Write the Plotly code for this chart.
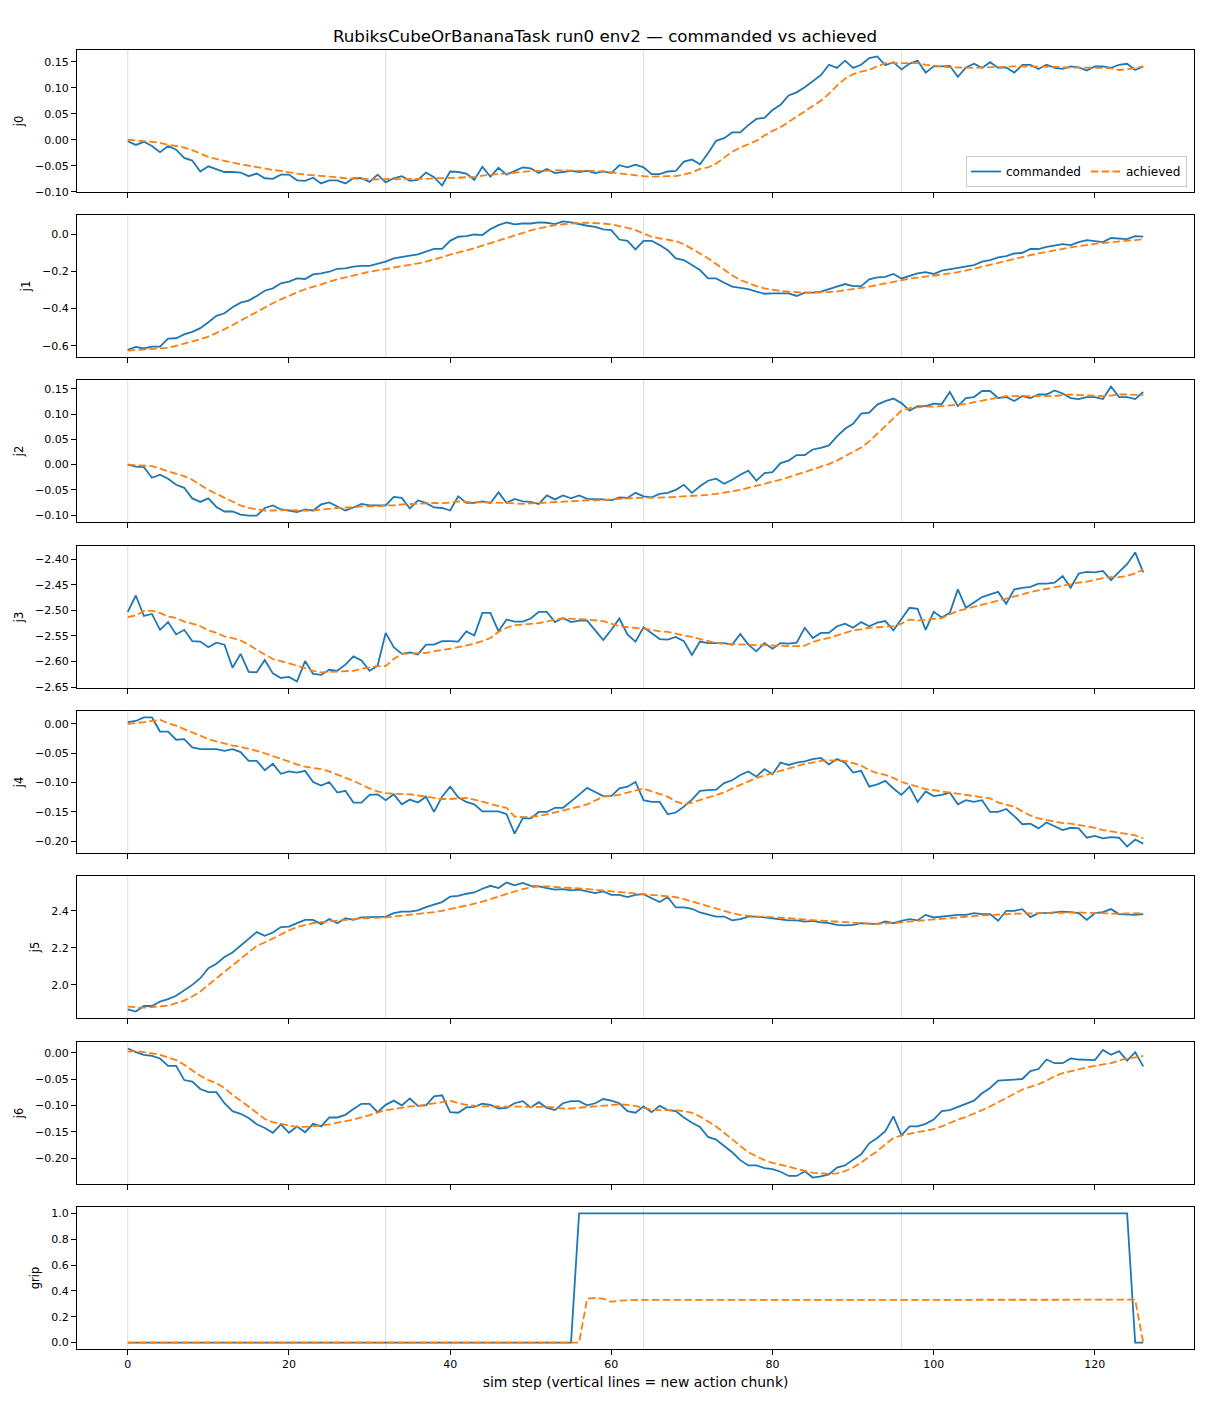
import plotly.graph_objects as go
from plotly.subplots import make_subplots

# ---------------- data ----------------
steps = list(range(127))
chunk_starts = [0, 32, 64, 96]
x_ticks = [0, 20, 40, 60, 80, 100, 120]
joint_names = ["j0", "j1", "j2", "j3", "j4", "j5", "j6", "grip"]

j0_cmd = [
    -0.003, -0.010, -0.004, -0.012, -0.024, -0.012, -0.019, -0.035, -0.040, -0.061,
    -0.051, -0.056, -0.062, -0.062, -0.063, -0.070, -0.065, -0.074, -0.075, -0.067,
    -0.067, -0.078, -0.079, -0.073, -0.084, -0.078, -0.078, -0.084, -0.074, -0.074,
    -0.081, -0.067, -0.082, -0.074, -0.070, -0.079, -0.077, -0.063, -0.072, -0.088,
    -0.061, -0.062, -0.065, -0.077, -0.052, -0.071, -0.054, -0.067, -0.060, -0.053,
    -0.055, -0.064, -0.056, -0.064, -0.062, -0.060, -0.062, -0.060, -0.064, -0.061,
    -0.064, -0.049, -0.053, -0.048, -0.053, -0.066, -0.066, -0.061, -0.060, -0.042,
    -0.038, -0.047, -0.026, -0.002, 0.003, 0.014, 0.014, 0.028, 0.040, 0.042,
    0.057, 0.067, 0.085, 0.091, 0.101, 0.112, 0.124, 0.144, 0.138, 0.152,
    0.138, 0.144, 0.157, 0.160, 0.143, 0.149, 0.135, 0.146, 0.152, 0.129,
    0.141, 0.141, 0.142, 0.121, 0.139, 0.146, 0.138, 0.149, 0.138, 0.139,
    0.129, 0.144, 0.144, 0.136, 0.144, 0.138, 0.136, 0.141, 0.139, 0.133,
    0.141, 0.141, 0.138, 0.144, 0.146, 0.134, 0.141,
]
j0_ach = [
    0.000, -0.001, -0.003, -0.004, -0.006, -0.010, -0.012, -0.015, -0.020, -0.026,
    -0.033, -0.037, -0.041, -0.044, -0.047, -0.050, -0.053, -0.055, -0.058, -0.060,
    -0.063, -0.065, -0.067, -0.068, -0.069, -0.071, -0.072, -0.074, -0.075, -0.076,
    -0.076, -0.076, -0.076, -0.076, -0.076, -0.076, -0.076, -0.075, -0.074, -0.074,
    -0.073, -0.073, -0.072, -0.072, -0.069, -0.067, -0.066, -0.065, -0.063, -0.062,
    -0.060, -0.060, -0.059, -0.059, -0.059, -0.059, -0.060, -0.060, -0.060, -0.061,
    -0.063, -0.065, -0.067, -0.069, -0.070, -0.071, -0.070, -0.070, -0.070, -0.067,
    -0.063, -0.056, -0.053, -0.046, -0.035, -0.023, -0.015, -0.009, -0.002, 0.008,
    0.017, 0.024, 0.034, 0.044, 0.054, 0.064, 0.075, 0.088, 0.104, 0.117,
    0.126, 0.131, 0.134, 0.141, 0.147, 0.147, 0.147, 0.147, 0.147, 0.144,
    0.142, 0.140, 0.139, 0.139, 0.138, 0.138, 0.139, 0.139, 0.140, 0.140,
    0.141, 0.141, 0.141, 0.140, 0.140, 0.140, 0.139, 0.139, 0.139, 0.139,
    0.139, 0.138, 0.137, 0.134, 0.135, 0.138, 0.141,
]

j1_cmd = [
    -0.621, -0.605, -0.614, -0.604, -0.604, -0.561, -0.559, -0.538, -0.525, -0.505,
    -0.473, -0.439, -0.425, -0.393, -0.368, -0.357, -0.332, -0.304, -0.291, -0.264,
    -0.255, -0.238, -0.241, -0.216, -0.211, -0.202, -0.186, -0.184, -0.175, -0.170,
    -0.170, -0.161, -0.148, -0.130, -0.125, -0.116, -0.109, -0.095, -0.079, -0.079,
    -0.036, -0.014, -0.011, -0.002, -0.005, 0.027, 0.048, 0.063, 0.052, 0.057,
    0.057, 0.063, 0.061, 0.054, 0.068, 0.063, 0.052, 0.045, 0.039, 0.025,
    0.021, -0.029, -0.036, -0.082, -0.036, -0.036, -0.059, -0.086, -0.130, -0.139,
    -0.166, -0.193, -0.238, -0.238, -0.261, -0.282, -0.288, -0.295, -0.309, -0.320,
    -0.318, -0.316, -0.318, -0.332, -0.314, -0.314, -0.309, -0.295, -0.282, -0.268,
    -0.279, -0.279, -0.243, -0.232, -0.229, -0.214, -0.238, -0.225, -0.211, -0.204,
    -0.214, -0.196, -0.189, -0.180, -0.175, -0.166, -0.148, -0.139, -0.125, -0.118,
    -0.104, -0.100, -0.080, -0.080, -0.068, -0.059, -0.054, -0.059, -0.043, -0.032,
    -0.038, -0.043, -0.021, -0.023, -0.027, -0.011, -0.013,
]
j1_ach = [
    -0.625, -0.623, -0.621, -0.618, -0.616, -0.611, -0.600, -0.589, -0.577, -0.564,
    -0.550, -0.532, -0.511, -0.488, -0.464, -0.439, -0.416, -0.393, -0.371, -0.350,
    -0.330, -0.313, -0.296, -0.282, -0.268, -0.255, -0.243, -0.232, -0.221, -0.211,
    -0.202, -0.195, -0.188, -0.180, -0.173, -0.166, -0.157, -0.148, -0.137, -0.124,
    -0.110, -0.100, -0.090, -0.076, -0.062, -0.048, -0.034, -0.020, -0.006, 0.008,
    0.020, 0.031, 0.040, 0.048, 0.053, 0.057, 0.060, 0.061, 0.060, 0.057,
    0.052, 0.045, 0.034, 0.021, 0.004, -0.014, -0.023, -0.029, -0.038, -0.054,
    -0.077, -0.104, -0.130, -0.161, -0.193, -0.221, -0.246, -0.264, -0.279, -0.291,
    -0.300, -0.305, -0.309, -0.313, -0.314, -0.314, -0.313, -0.311, -0.307, -0.302,
    -0.296, -0.289, -0.282, -0.273, -0.264, -0.255, -0.246, -0.239, -0.234, -0.229,
    -0.223, -0.218, -0.211, -0.204, -0.196, -0.186, -0.175, -0.164, -0.154, -0.143,
    -0.132, -0.121, -0.113, -0.104, -0.095, -0.086, -0.079, -0.071, -0.064, -0.057,
    -0.052, -0.048, -0.045, -0.039, -0.036, -0.032, -0.027,
]

j2_cmd = [
    0.000, -0.004, -0.005, -0.026, -0.020, -0.028, -0.040, -0.046, -0.067, -0.074,
    -0.067, -0.084, -0.093, -0.093, -0.099, -0.101, -0.101, -0.086, -0.081, -0.089,
    -0.091, -0.094, -0.089, -0.091, -0.079, -0.075, -0.083, -0.091, -0.085, -0.078,
    -0.081, -0.081, -0.081, -0.064, -0.066, -0.087, -0.071, -0.076, -0.085, -0.086,
    -0.091, -0.063, -0.076, -0.076, -0.073, -0.076, -0.055, -0.076, -0.068, -0.073,
    -0.074, -0.078, -0.061, -0.069, -0.061, -0.067, -0.061, -0.068, -0.068, -0.069,
    -0.071, -0.065, -0.066, -0.056, -0.063, -0.065, -0.058, -0.056, -0.050, -0.040,
    -0.056, -0.043, -0.032, -0.028, -0.038, -0.030, -0.020, -0.012, -0.032, -0.017,
    -0.015, 0.003, 0.008, 0.019, 0.019, 0.030, 0.033, 0.038, 0.056, 0.071,
    0.081, 0.101, 0.103, 0.119, 0.126, 0.131, 0.122, 0.107, 0.116, 0.116,
    0.121, 0.120, 0.144, 0.116, 0.132, 0.134, 0.146, 0.146, 0.132, 0.134,
    0.126, 0.136, 0.132, 0.139, 0.139, 0.147, 0.141, 0.132, 0.130, 0.134,
    0.134, 0.130, 0.155, 0.134, 0.134, 0.130, 0.144,
]
j2_ach = [
    0.000, -0.001, -0.001, -0.003, -0.008, -0.013, -0.019, -0.023, -0.030, -0.040,
    -0.050, -0.058, -0.066, -0.074, -0.081, -0.086, -0.089, -0.091, -0.091, -0.090,
    -0.090, -0.091, -0.091, -0.091, -0.089, -0.087, -0.086, -0.085, -0.085, -0.083,
    -0.083, -0.083, -0.081, -0.081, -0.079, -0.078, -0.077, -0.076, -0.076, -0.077,
    -0.075, -0.073, -0.074, -0.075, -0.075, -0.075, -0.075, -0.076, -0.077, -0.078,
    -0.077, -0.076, -0.075, -0.074, -0.073, -0.073, -0.072, -0.071, -0.071, -0.070,
    -0.069, -0.067, -0.067, -0.066, -0.066, -0.066, -0.065, -0.065, -0.064, -0.063,
    -0.063, -0.062, -0.060, -0.058, -0.056, -0.053, -0.050, -0.046, -0.043, -0.038,
    -0.034, -0.030, -0.025, -0.020, -0.015, -0.009, -0.004, 0.001, 0.008, 0.017,
    0.025, 0.034, 0.046, 0.061, 0.076, 0.093, 0.107, 0.112, 0.114, 0.115,
    0.115, 0.116, 0.117, 0.118, 0.120, 0.124, 0.127, 0.130, 0.134, 0.136,
    0.136, 0.136, 0.135, 0.135, 0.135, 0.136, 0.138, 0.139, 0.138, 0.137,
    0.136, 0.136, 0.137, 0.139, 0.139, 0.138, 0.138,
]

j3_cmd = [
    -2.503, -2.471, -2.511, -2.507, -2.538, -2.523, -2.547, -2.538, -2.560, -2.561,
    -2.572, -2.563, -2.567, -2.612, -2.585, -2.620, -2.621, -2.597, -2.623, -2.632,
    -2.630, -2.639, -2.599, -2.624, -2.626, -2.616, -2.618, -2.606, -2.590, -2.598,
    -2.618, -2.608, -2.544, -2.572, -2.585, -2.582, -2.586, -2.567, -2.567, -2.560,
    -2.560, -2.561, -2.541, -2.549, -2.505, -2.505, -2.541, -2.518, -2.522, -2.522,
    -2.516, -2.503, -2.503, -2.523, -2.515, -2.523, -2.520, -2.520, -2.539, -2.558,
    -2.538, -2.516, -2.547, -2.561, -2.533, -2.544, -2.556, -2.557, -2.552, -2.560,
    -2.587, -2.561, -2.564, -2.564, -2.564, -2.567, -2.546, -2.567, -2.580, -2.564,
    -2.575, -2.564, -2.565, -2.563, -2.534, -2.554, -2.544, -2.544, -2.531, -2.526,
    -2.534, -2.523, -2.531, -2.524, -2.521, -2.539, -2.518, -2.495, -2.497, -2.538,
    -2.503, -2.514, -2.505, -2.459, -2.495, -2.484, -2.474, -2.469, -2.464, -2.487,
    -2.459, -2.456, -2.454, -2.448, -2.448, -2.446, -2.433, -2.456, -2.428, -2.425,
    -2.426, -2.423, -2.441, -2.425, -2.410, -2.387, -2.426,
]
j3_ach = [
    -2.513, -2.510, -2.501, -2.501, -2.505, -2.512, -2.515, -2.522, -2.526, -2.531,
    -2.539, -2.544, -2.551, -2.554, -2.559, -2.567, -2.577, -2.586, -2.595, -2.599,
    -2.603, -2.608, -2.613, -2.618, -2.621, -2.620, -2.619, -2.619, -2.618, -2.614,
    -2.611, -2.609, -2.609, -2.595, -2.585, -2.584, -2.584, -2.583, -2.580, -2.578,
    -2.575, -2.572, -2.569, -2.565, -2.560, -2.554, -2.542, -2.534, -2.529, -2.528,
    -2.527, -2.525, -2.522, -2.518, -2.516, -2.516, -2.517, -2.518, -2.520, -2.521,
    -2.526, -2.531, -2.533, -2.534, -2.536, -2.538, -2.541, -2.542, -2.546, -2.549,
    -2.552, -2.556, -2.560, -2.564, -2.565, -2.566, -2.567, -2.567, -2.568, -2.568,
    -2.569, -2.569, -2.570, -2.570, -2.569, -2.562, -2.557, -2.554, -2.549, -2.544,
    -2.539, -2.537, -2.534, -2.533, -2.532, -2.531, -2.526, -2.518, -2.520, -2.518,
    -2.516, -2.515, -2.508, -2.501, -2.497, -2.493, -2.490, -2.486, -2.482, -2.477,
    -2.473, -2.469, -2.464, -2.461, -2.458, -2.454, -2.452, -2.448, -2.446, -2.444,
    -2.440, -2.437, -2.435, -2.435, -2.433, -2.428, -2.420,
]

j4_cmd = [
    0.003, 0.005, 0.011, 0.011, -0.013, -0.013, -0.027, -0.026, -0.040, -0.043,
    -0.043, -0.043, -0.046, -0.043, -0.048, -0.063, -0.063, -0.079, -0.068, -0.085,
    -0.081, -0.083, -0.080, -0.099, -0.105, -0.099, -0.117, -0.114, -0.134, -0.134,
    -0.121, -0.120, -0.130, -0.120, -0.137, -0.129, -0.134, -0.124, -0.150, -0.124,
    -0.107, -0.125, -0.133, -0.137, -0.149, -0.149, -0.149, -0.154, -0.187, -0.161,
    -0.161, -0.150, -0.150, -0.143, -0.143, -0.132, -0.121, -0.109, -0.116, -0.123,
    -0.123, -0.110, -0.107, -0.099, -0.130, -0.133, -0.133, -0.154, -0.151, -0.141,
    -0.129, -0.114, -0.113, -0.112, -0.101, -0.096, -0.087, -0.081, -0.090, -0.077,
    -0.086, -0.066, -0.070, -0.066, -0.064, -0.060, -0.058, -0.069, -0.060, -0.066,
    -0.083, -0.080, -0.107, -0.103, -0.097, -0.110, -0.121, -0.107, -0.133, -0.115,
    -0.123, -0.121, -0.117, -0.137, -0.130, -0.133, -0.130, -0.150, -0.150, -0.145,
    -0.157, -0.171, -0.170, -0.178, -0.168, -0.174, -0.181, -0.177, -0.178, -0.194,
    -0.191, -0.195, -0.193, -0.194, -0.209, -0.197, -0.204,
]
j4_ach = [
    0.000, 0.001, 0.003, 0.005, 0.007, 0.001, -0.003, -0.009, -0.014, -0.020,
    -0.026, -0.030, -0.034, -0.037, -0.039, -0.042, -0.046, -0.050, -0.055, -0.060,
    -0.064, -0.069, -0.073, -0.075, -0.077, -0.081, -0.087, -0.092, -0.097, -0.104,
    -0.110, -0.115, -0.118, -0.119, -0.119, -0.120, -0.122, -0.124, -0.126, -0.128,
    -0.128, -0.127, -0.126, -0.129, -0.133, -0.137, -0.140, -0.143, -0.158, -0.159,
    -0.158, -0.157, -0.154, -0.151, -0.148, -0.145, -0.141, -0.137, -0.130, -0.124,
    -0.123, -0.121, -0.117, -0.113, -0.110, -0.115, -0.119, -0.124, -0.132, -0.137,
    -0.134, -0.130, -0.126, -0.121, -0.117, -0.110, -0.104, -0.097, -0.092, -0.088,
    -0.084, -0.080, -0.076, -0.072, -0.068, -0.066, -0.063, -0.062, -0.062, -0.063,
    -0.067, -0.071, -0.079, -0.084, -0.087, -0.092, -0.099, -0.103, -0.107, -0.111,
    -0.113, -0.115, -0.116, -0.119, -0.121, -0.123, -0.124, -0.127, -0.134, -0.137,
    -0.141, -0.149, -0.156, -0.161, -0.164, -0.167, -0.169, -0.170, -0.172, -0.174,
    -0.177, -0.181, -0.183, -0.185, -0.187, -0.190, -0.195,
]

j5_cmd = [
    1.868, 1.856, 1.886, 1.886, 1.910, 1.923, 1.941, 1.969, 2.000, 2.036,
    2.090, 2.114, 2.150, 2.175, 2.211, 2.252, 2.285, 2.265, 2.283, 2.312,
    2.315, 2.333, 2.351, 2.351, 2.328, 2.355, 2.333, 2.360, 2.351, 2.364,
    2.366, 2.366, 2.369, 2.387, 2.396, 2.396, 2.402, 2.420, 2.432, 2.447,
    2.477, 2.481, 2.492, 2.499, 2.519, 2.535, 2.523, 2.553, 2.537, 2.550,
    2.535, 2.532, 2.523, 2.514, 2.517, 2.510, 2.514, 2.505, 2.495, 2.505,
    2.486, 2.486, 2.474, 2.486, 2.490, 2.468, 2.447, 2.474, 2.418, 2.418,
    2.411, 2.391, 2.378, 2.369, 2.369, 2.348, 2.355, 2.369, 2.369, 2.364,
    2.357, 2.351, 2.348, 2.348, 2.342, 2.346, 2.337, 2.333, 2.324, 2.321,
    2.324, 2.333, 2.330, 2.328, 2.342, 2.333, 2.346, 2.355, 2.348, 2.378,
    2.364, 2.369, 2.373, 2.378, 2.378, 2.387, 2.382, 2.382, 2.346, 2.400,
    2.400, 2.409, 2.366, 2.387, 2.387, 2.393, 2.396, 2.393, 2.387, 2.351,
    2.387, 2.393, 2.409, 2.382, 2.378, 2.378, 2.382,
]
j5_ach = [
    1.883, 1.880, 1.877, 1.880, 1.883, 1.888, 1.901, 1.915, 1.937, 1.964,
    2.000, 2.036, 2.072, 2.108, 2.144, 2.180, 2.211, 2.229, 2.252, 2.274,
    2.294, 2.312, 2.324, 2.333, 2.339, 2.342, 2.348, 2.351, 2.355, 2.359,
    2.360, 2.362, 2.364, 2.369, 2.373, 2.378, 2.384, 2.387, 2.393, 2.400,
    2.409, 2.418, 2.427, 2.438, 2.450, 2.463, 2.477, 2.492, 2.505, 2.517,
    2.526, 2.532, 2.532, 2.528, 2.526, 2.523, 2.521, 2.517, 2.514, 2.510,
    2.508, 2.505, 2.499, 2.496, 2.492, 2.488, 2.485, 2.481, 2.474, 2.463,
    2.450, 2.438, 2.423, 2.409, 2.396, 2.387, 2.378, 2.373, 2.369, 2.368,
    2.366, 2.364, 2.360, 2.357, 2.353, 2.350, 2.346, 2.342, 2.339, 2.336,
    2.333, 2.331, 2.330, 2.330, 2.331, 2.333, 2.337, 2.342, 2.346, 2.351,
    2.355, 2.359, 2.362, 2.366, 2.369, 2.373, 2.375, 2.377, 2.378, 2.382,
    2.384, 2.386, 2.387, 2.387, 2.387, 2.389, 2.389, 2.391, 2.391, 2.389,
    2.387, 2.384, 2.382, 2.384, 2.386, 2.386, 2.387,
]

j6_cmd = [
    0.008, 0.001, -0.004, -0.006, -0.011, -0.025, -0.025, -0.052, -0.055, -0.069,
    -0.075, -0.075, -0.096, -0.111, -0.116, -0.124, -0.136, -0.143, -0.152, -0.136,
    -0.152, -0.140, -0.151, -0.135, -0.140, -0.123, -0.123, -0.118, -0.107, -0.097,
    -0.097, -0.113, -0.099, -0.091, -0.100, -0.087, -0.101, -0.100, -0.083, -0.081,
    -0.113, -0.114, -0.104, -0.103, -0.097, -0.099, -0.106, -0.105, -0.096, -0.092,
    -0.104, -0.094, -0.105, -0.109, -0.096, -0.092, -0.092, -0.100, -0.096, -0.088,
    -0.091, -0.096, -0.111, -0.114, -0.102, -0.113, -0.101, -0.109, -0.111, -0.123,
    -0.133, -0.141, -0.160, -0.165, -0.177, -0.189, -0.204, -0.214, -0.214, -0.219,
    -0.221, -0.226, -0.234, -0.234, -0.225, -0.237, -0.235, -0.231, -0.218, -0.214,
    -0.203, -0.193, -0.172, -0.162, -0.149, -0.121, -0.157, -0.140, -0.140, -0.135,
    -0.127, -0.111, -0.109, -0.103, -0.096, -0.091, -0.077, -0.067, -0.053, -0.052,
    -0.052, -0.050, -0.035, -0.031, -0.013, -0.020, -0.020, -0.011, -0.013, -0.014,
    -0.014, 0.005, -0.004, 0.003, -0.015, 0.001, -0.026,
]
j6_ach = [
    0.002, 0.003, 0.001, -0.001, -0.004, -0.009, -0.014, -0.023, -0.033, -0.044,
    -0.052, -0.058, -0.067, -0.080, -0.091, -0.102, -0.114, -0.126, -0.132, -0.135,
    -0.138, -0.141, -0.141, -0.140, -0.138, -0.136, -0.133, -0.131, -0.127, -0.123,
    -0.118, -0.113, -0.109, -0.107, -0.104, -0.102, -0.101, -0.099, -0.097, -0.094,
    -0.091, -0.096, -0.099, -0.101, -0.102, -0.102, -0.102, -0.103, -0.103, -0.103,
    -0.102, -0.102, -0.103, -0.104, -0.106, -0.106, -0.104, -0.103, -0.102, -0.101,
    -0.100, -0.098, -0.099, -0.101, -0.105, -0.108, -0.109, -0.109, -0.109, -0.111,
    -0.114, -0.121, -0.130, -0.140, -0.152, -0.165, -0.177, -0.189, -0.197, -0.204,
    -0.209, -0.213, -0.217, -0.221, -0.225, -0.228, -0.229, -0.230, -0.229, -0.225,
    -0.218, -0.209, -0.197, -0.187, -0.174, -0.162, -0.157, -0.154, -0.151, -0.149,
    -0.145, -0.140, -0.133, -0.127, -0.122, -0.116, -0.109, -0.102, -0.094, -0.086,
    -0.078, -0.070, -0.065, -0.060, -0.053, -0.045, -0.039, -0.035, -0.031, -0.028,
    -0.025, -0.023, -0.020, -0.015, -0.011, -0.009, -0.006,
]

grip_cmd = [
    0, 0, 0, 0, 0, 0, 0, 0, 0, 0,
    0, 0, 0, 0, 0, 0, 0, 0, 0, 0,
    0, 0, 0, 0, 0, 0, 0, 0, 0, 0,
    0, 0, 0, 0, 0, 0, 0, 0, 0, 0,
    0, 0, 0, 0, 0, 0, 0, 0, 0, 0,
    0, 0, 0, 0, 0, 0, 1, 1, 1, 1,
    1, 1, 1, 1, 1, 1, 1, 1, 1, 1,
    1, 1, 1, 1, 1, 1, 1, 1, 1, 1,
    1, 1, 1, 1, 1, 1, 1, 1, 1, 1,
    1, 1, 1, 1, 1, 1, 1, 1, 1, 1,
    1, 1, 1, 1, 1, 1, 1, 1, 1, 1,
    1, 1, 1, 1, 1, 1, 1, 1, 1, 1,
    1, 1, 1, 1, 1, 0, 0,
]
grip_ach = [
    0, 0, 0, 0, 0, 0, 0, 0, 0, 0,
    0, 0, 0, 0, 0, 0, 0, 0, 0, 0,
    0, 0, 0, 0, 0, 0, 0, 0, 0, 0,
    0, 0, 0, 0, 0, 0, 0, 0, 0, 0,
    0, 0, 0, 0, 0, 0, 0, 0, 0, 0,
    0, 0, 0, 0, 0, 0, 0, 0.340, 0.345, 0.340,
    0.315, 0.325, 0.330, 0.330, 0.330, 0.330, 0.330, 0.330, 0.330, 0.330,
    0.330, 0.330, 0.330, 0.330, 0.330, 0.330, 0.330, 0.330, 0.330, 0.330,
    0.330, 0.330, 0.330, 0.330, 0.330, 0.330, 0.330, 0.330, 0.330, 0.330,
    0.330, 0.330, 0.330, 0.330, 0.330, 0.330, 0.330, 0.330, 0.330, 0.330,
    0.330, 0.330, 0.330, 0.331, 0.331, 0.331, 0.331, 0.331, 0.331, 0.331,
    0.331, 0.331, 0.331, 0.332, 0.332, 0.332, 0.332, 0.332, 0.332, 0.332,
    0.332, 0.332, 0.332, 0.332, 0.332, 0.332, 0.0,
]

cmd_series = [j0_cmd, j1_cmd, j2_cmd, j3_cmd, j4_cmd, j5_cmd, j6_cmd, grip_cmd]
ach_series = [j0_ach, j1_ach, j2_ach, j3_ach, j4_ach, j5_ach, j6_ach, grip_ach]
y_dticks = [0.05, 0.2, 0.05, 0.05, 0.05, 0.2, 0.05, 0.2]
y_formats = [".2f", ".1f", ".2f", ".2f", ".2f", ".1f", ".2f", ".1f"]

for s in cmd_series + ach_series:
    assert len(s) == len(steps), len(s)

# ---------------- layout / style ----------------
# The page body has an 8px default margin, so the figure is drawn 8px
# smaller and everything is positioned in figure-local pixels.
OFF = 8
WIN_W, WIN_H = 1210, 1408
W, H = WIN_W - OFF, WIN_H - OFF
M_L, M_R, M_T, M_B = 77 - OFF, 16, 50 - OFF, 59
PANEL_TOPS = [t - OFF for t in [50, 215, 380, 546, 711, 876, 1042, 1207]]
PANEL_H = 142
PLOT_H = H - M_T - M_B
PLOT_W = W - M_L - M_R

BLUE = "#1f77b4"
ORANGE = "#ff7f0e"
LW = 1.8
DASH = "7.5px,3.3px"
VLINE = "#dcdcdc"
FONT = "DejaVu Sans"

fig = make_subplots(rows=8, cols=1, shared_xaxes=True, vertical_spacing=0.01)

axis_common = dict(
    showline=True, linecolor="black", linewidth=1, mirror=True,
    ticks="outside", ticklen=5, tickwidth=1, tickcolor="black",
    showgrid=False, zeroline=False,
    tickfont=dict(size=11, color="black", family=FONT),
)

for r in range(1, 9):
    cmd = cmd_series[r - 1]
    ach = ach_series[r - 1]
    fig.add_trace(go.Scatter(
        x=steps, y=cmd, mode="lines", name="commanded",
        line=dict(color=BLUE, width=LW), showlegend=(r == 1),
        legendgroup="cmd"), row=r, col=1)
    fig.add_trace(go.Scatter(
        x=steps, y=ach, mode="lines", name="achieved",
        line=dict(color=ORANGE, width=LW, dash=DASH), showlegend=(r == 1),
        legendgroup="ach"), row=r, col=1)
    for c in chunk_starts:
        fig.add_vline(x=c, line=dict(color=VLINE, width=1), layer="below",
                      row=r, col=1)

    lo = min(cmd + ach)
    hi = max(cmd + ach)
    pad = 0.05 * (hi - lo)
    top = PANEL_TOPS[r - 1]
    dom = [(H - M_B - (top + PANEL_H)) / PLOT_H, (H - M_B - top) / PLOT_H]
    fig.update_yaxes(
        row=r, col=1, domain=dom, range=[lo - pad, hi + pad],
        tick0=0, dtick=y_dticks[r - 1], tickformat=y_formats[r - 1],
        title=dict(text=joint_names[r - 1],
                   font=dict(size=11.5, color="black", family=FONT),
                   standoff=9),
        **axis_common)
    fig.update_xaxes(
        row=r, col=1, range=[-6.3, 132.3], tickvals=x_ticks,
        showticklabels=(r == 8), **axis_common)

fig.update_xaxes(
    row=8, col=1,
    title=dict(text="sim step (vertical lines = new action chunk)",
               font=dict(size=13.9, color="black", family=FONT), standoff=7))

fig.update_layout(
    width=W, height=H,
    margin=dict(l=M_L, r=M_R, t=M_T, b=M_B, autoexpand=False),
    paper_bgcolor="white", plot_bgcolor="white",
    font=dict(family=FONT, color="black"),
    title=dict(text="RubiksCubeOrBananaTask run0 env2 \u2014 commanded vs achieved",
               x=(605 - OFF) / W, xref="container", xanchor="center",
               y=1 - (36 - OFF) / H, yref="container", yanchor="middle",
               font=dict(size=16.7, color="black", family=FONT)),
    legend=dict(orientation="h", x=(1187 - OFF - M_L) / PLOT_W,
                y=(H - M_B - (187 - OFF)) / PLOT_H, xanchor="right", yanchor="bottom",
                bordercolor="#cccccc", borderwidth=1,
                bgcolor="rgba(255,255,255,0.8)",
                font=dict(size=12, color="black", family=FONT)),
    showlegend=True,
)

fig.write_html("out.html")
